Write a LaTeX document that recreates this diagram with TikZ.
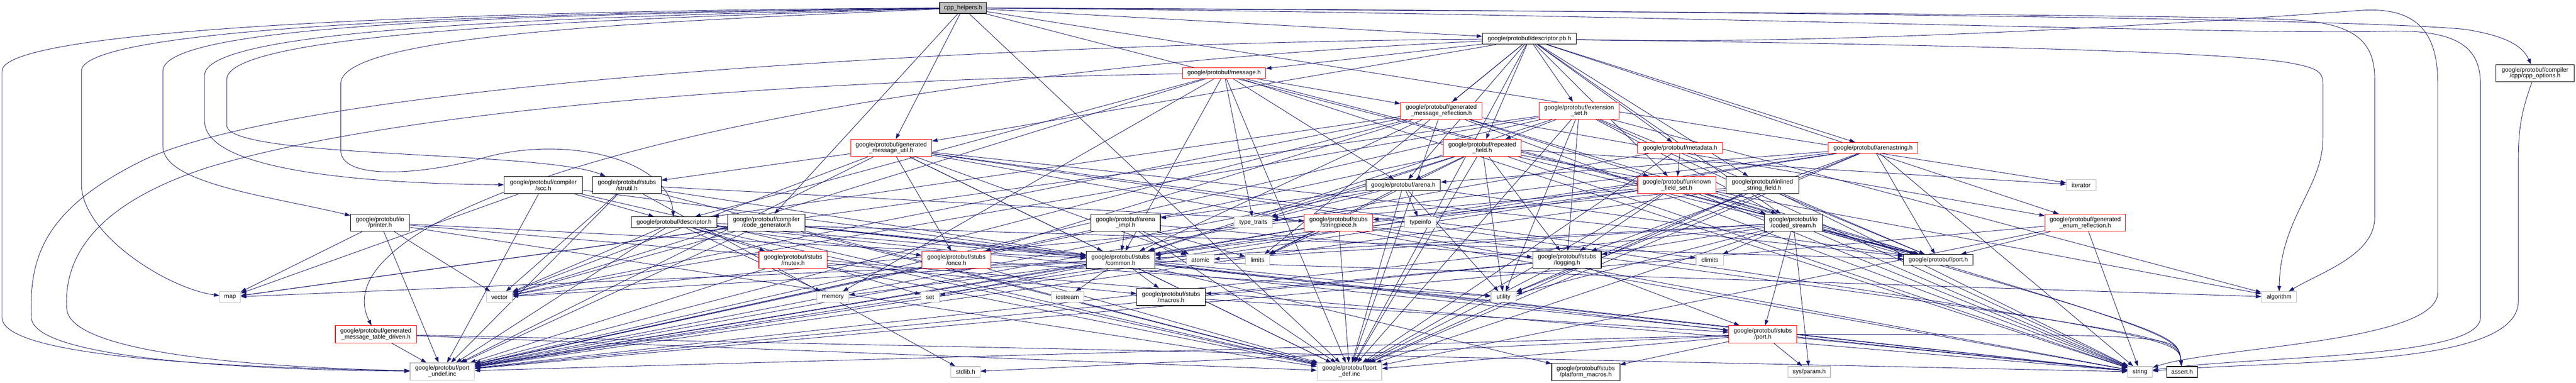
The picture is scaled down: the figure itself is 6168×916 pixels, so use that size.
\documentclass[tikz,border=0pt]{standalone}
\usepackage{fontspec}
\setmainfont{Liberation Sans}
\usetikzlibrary{arrows.meta}
\pgfdeclarelayer{bg}
\pgfsetlayers{bg,main}
\definecolor{edgec}{HTML}{191970}
\definecolor{redc}{HTML}{FF0000}
\definecolor{greyc}{HTML}{BFBFBF}
\begin{document}
\begin{tikzpicture}[x=1pt,y=-1pt,
  box/.style={draw=black, fill=white, line width=1.4pt, inner sep=0pt, align=center,
    minimum height=26pt, font=\fontsize{14.5}{14.5}\selectfont},
  two/.style={minimum height=41pt},
  trunc/.style={draw=redc},
  sys/.style={draw=greyc},
  ed/.style={draw=edgec, line width=1.1pt, -{Triangle[length=13pt,width=9pt]}}]
\useasboundingbox (0,0) rectangle (6168,916);
% rank 0-2
\node[box,fill=greyc,minimum width=112pt] (cpp) at (2306,19) {cpp\_helpers.h};
\node[box,minimum width=225pt] (dpb) at (3662,93) {google/protobuf/descriptor.pb.h};
\node[box,trunc,minimum width=199pt] (msg) at (2931,175) {google/protobuf/message.h};
\node[box,two,minimum width=187pt] (cppopt) at (6070,175) {google/protobuf/compiler\\/cpp/cpp\_options.h};
% rank 3-4
\node[box,two,trunc,minimum width=195pt] (gmr) at (3451,265) {google/protobuf/generated\\\_message\_reflection.h};
\node[box,two,trunc,minimum width=192pt] (ext) at (3781,265) {google/protobuf/extension\\\_set.h};
\node[box,two,trunc,minimum width=194pt] (gmu) at (2134,354) {google/protobuf/generated\\\_message\_util.h};
\node[box,two,trunc,minimum width=186pt] (rep) at (3549,354) {google/protobuf/repeated\\\_field.h};
\node[box,trunc,minimum width=204pt] (meta) at (4023,354) {google/protobuf/metadata.h};
\node[box,trunc,minimum width=215pt] (astr) at (4485,354) {google/protobuf/arenastring.h};
% rank 5
\node[box,two,minimum width=188pt] (scc) at (1301,443) {google/protobuf/compiler\\/scc.h};
\node[box,two,minimum width=164pt] (strutil) at (1501,443) {google/protobuf/stubs\\/strutil.h};
\node[box,minimum width=178pt] (arena) at (3360,443) {google/protobuf/arena.h};
\node[box,two,trunc,minimum width=187pt] (ufs) at (4015,443) {google/protobuf/unknown\\\_field\_set.h};
\node[box,two,minimum width=174pt] (isf) at (4220,443) {google/protobuf/inlined\\\_string\_field.h};
\node[box,sys,minimum width=71pt] (iter) at (4983,443) {iterator};
% rank 6
\node[box,two,minimum width=141pt] (printer) at (910,533) {google/protobuf/io\\/printer.h};
\node[box,minimum width=205pt] (desc) at (1614,532) {google/protobuf/descriptor.h};
\node[box,two,minimum width=186pt] (codegen) at (1835,533) {google/protobuf/compiler\\/code\_generator.h};
\node[box,two,minimum width=166pt] (aimpl) at (2695,533) {google/protobuf/arena\\\_impl.h};
\node[box,sys,minimum width=91pt] (tt) at (3001,532) {type\_traits};
\node[box,two,trunc,minimum width=164pt] (sp) at (3205,533) {google/protobuf/stubs\\/stringpiece.h};
\node[box,sys,minimum width=76pt] (ti) at (3401,532) {typeinfo};
\node[box,two,minimum width=140pt] (cs) at (4294,533) {google/protobuf/io\\/coded\_stream.h};
\node[box,two,trunc,minimum width=193pt] (ger) at (4993,533) {google/protobuf/generated\\\_enum\_reflection.h};
% rank 7
\node[box,two,trunc,minimum width=164pt] (mutex) at (1899,622) {google/protobuf/stubs\\/mutex.h};
\node[box,two,trunc,minimum width=165pt] (once) at (2290,622) {google/protobuf/stubs\\/once.h};
\node[box,two,minimum width=164pt] (common) at (2683,622) {google/protobuf/stubs\\/common.h};
\node[box,sys,minimum width=65pt] (atomic) at (2874,622) {atomic};
\node[box,sys,minimum width=58pt] (limits) at (3011,622) {limits};
\node[box,two,minimum width=164pt] (logging) at (3752,622) {google/protobuf/stubs\\/logging.h};
\node[box,sys,minimum width=66pt] (climits) at (4094,622) {climits};
\node[box,minimum width=166pt] (gport) at (4641,622) {google/protobuf/port.h};
% rank 8
\node[box,sys,minimum width=50pt] (map) at (551,711) {map};
\node[box,sys,minimum width=62pt] (vector) at (1196,711) {vector};
\node[box,sys,minimum width=77pt] (memory) at (1994,711) {memory};
\node[box,sys,minimum width=44pt] (set) at (2227,711) {set};
\node[box,sys,minimum width=78pt] (iostream) at (2556,711) {iostream};
\node[box,two,minimum width=164pt] (macros) at (2804,711) {google/protobuf/stubs\\/macros.h};
\node[box,sys,minimum width=60pt] (utility) at (3600,711) {utility};
\node[box,sys,minimum width=84pt] (algorithm) at (5457,711) {algorithm};
% rank 9
\node[box,two,trunc,minimum width=194pt] (gmtd) at (900,800) {google/protobuf/generated\\\_message\_table\_driven.h};
\node[box,two,trunc,minimum width=163pt] (sport) at (4221,800) {google/protobuf/stubs\\/port.h};
% rank 10
\node[box,two,sys,minimum width=154pt] (pundef) at (1059,889) {google/protobuf/port\\\_undef.inc};
\node[box,sys,minimum width=70pt] (stdlib) at (2312,890) {stdlib.h};
\node[box,two,sys,minimum width=155pt] (pdef) at (3231,889) {google/protobuf/port\\\_def.inc};
\node[box,two,minimum width=163pt] (pmac) at (3797,890) {google/protobuf/stubs\\/platform\_macros.h};
\node[box,sys,minimum width=102pt] (sysparam) at (4332,890) {sys/param.h};
\node[box,sys,minimum width=59pt] (string) at (5124,890) {string};
\node[box,minimum width=74pt] (assert) at (5225,890) {assert.h};

\begin{pgfonlayer}{bg}
\foreach \s/\t in {cpp/codegen, cpp/gmu, cpp/dpb, cpp/iter, cpp/gport, cpp/pdef,
 dpb/limits, dpb/pdef, dpb/cs, dpb/arena, dpb/astr, dpb/gmu, dpb/isf, dpb/meta, dpb/gmr, dpb/msg, dpb/rep, dpb/ext, dpb/ger, dpb/ufs,
 msg/memory, msg/tt, msg/vector, msg/common, msg/arena, msg/desc, msg/gmr, msg/gport, msg/pdef, msg/string,
 gmr/string, gmr/vector, gmr/common, gmr/desc, gmr/ger, gmr/once, gmr/gport, gmr/ufs, gmr/pdef, gmr/pundef,
 ext/algorithm, ext/map, ext/string, ext/utility, ext/vector, ext/common, ext/logging, ext/cs, ext/gport, ext/rep, ext/pdef, ext/pundef,
 gmu/atomic, gmu/climits, gmu/string, gmu/vector, gmu/common, gmu/once, gmu/gport, gmu/strutil, gmu/pdef, gmu/pundef,
 rep/utility, rep/algorithm, rep/iter, rep/limits, rep/string, rep/tt, rep/logging, rep/common, rep/arena, rep/gport, rep/pdef, rep/pundef,
 meta/ufs, meta/pdef, meta/pundef,
 astr/string, astr/tt, astr/utility, astr/logging, astr/common, astr/arena, astr/gport, astr/pdef, astr/pundef,
 scc/map, scc/common, scc/desc, scc/pdef, scc/pundef,
 strutil/stdlib, strutil/vector, strutil/common, strutil/sp, strutil/pdef, strutil/pundef,
 arena/limits, arena/tt, arena/utility, arena/ti, arena/aimpl, arena/gport, arena/pdef, arena/pundef,
 ufs/string, ufs/vector, ufs/common, ufs/logging, ufs/cs, ufs/gport, ufs/pdef, ufs/pundef,
 isf/string, isf/utility, isf/gport, isf/sp, isf/pdef, isf/pundef,
 printer/map, printer/string, printer/vector, printer/common, printer/pdef, printer/pundef,
 desc/memory, desc/set, desc/string, desc/vector, desc/common, desc/mutex, desc/once, desc/gport, desc/pdef, desc/pundef,
 codegen/map, codegen/string, codegen/utility, codegen/vector, codegen/common, codegen/pdef, codegen/pundef,
 aimpl/atomic, aimpl/limits, aimpl/common, aimpl/logging, aimpl/pdef, aimpl/pundef,
 sp/limits, sp/string, sp/common, sp/pdef, sp/pundef,
 cs/atomic, cs/climits, cs/string, cs/utility, cs/sysparam, cs/common, cs/logging, cs/gport, cs/sport, cs/pdef, cs/pundef,
 ger/string, ger/gport, ger/pdef, ger/pundef,
 mutex/macros, mutex/pdef, mutex/pundef,
 once/utility, once/pdef, once/pundef,
 common/algorithm, common/iostream, common/map, common/memory, common/set, common/string, common/vector, common/macros, common/pmac, common/sport, common/pdef, common/pundef,
 logging/macros, logging/sport, logging/pdef, logging/pundef,
 macros/sport,
 gmtd/string, gmtd/pdef, gmtd/pundef,
 sport/stdlib, sport/string, sport/pmac, sport/sysparam, sport/pdef, sport/pundef}
  \draw[ed] (\s) -- (\t);
% edges into assert.h from above
\foreach \s in {gmu, ufs, sp, cs, sport}
  \draw[ed] (\s) .. controls (5215,800) .. (assert);
% long edges routed round the left side
\draw[ed] (cpp) .. controls (1500,22) and (5,50) .. (5,170) -- (5,760) .. controls (5,860) and (600,880) .. (pundef);
\draw[ed] (cpp) .. controls (1400,28) and (195,55) .. (195,170) -- (195,440) .. controls (195,560) and (400,690) .. (map);
\draw[ed] (cpp) .. controls (1200,35) and (390,60) .. (390,170) -- (390,350) .. controls (390,440) and (650,470) .. (printer);
\draw[ed] (cpp) .. controls (1300,40) and (490,70) .. (490,180) -- (490,290) .. controls (490,420) and (950,440) .. (scc);
\draw[ed] (cpp) .. controls (1400,45) and (543,80) .. (543,190) -- (543,300) .. controls (543,380) and (1300,360) .. (strutil);
\draw[ed] (cpp) .. controls (1600,50) and (816,80) .. (816,200) -- (816,360) .. controls (816,430) and (1000,420) .. (1150,380) .. controls (1350,320) and (1600,380) .. (desc);
\draw[ed] (dpb) .. controls (2600,100) and (800,180) .. (350,380) .. controls (100,500) and (70,620) .. (75,760) .. controls (80,860) and (600,885) .. (pundef);
\draw[ed] (msg) .. controls (2000,190) and (1000,250) .. (500,400) .. controls (250,480) and (150,600) .. (160,740) .. controls (170,850) and (650,880) .. (pundef);
\draw[ed] (dpb) .. controls (1800,180) and (750,500) .. (gmtd);
% long edges routed round the right side
\draw[ed] (cpp) .. controls (3500,22) and (5600,40) .. (5900,70) .. controls (6000,85) and (6040,110) .. (cppopt);
\draw[ed] (cpp) .. controls (3600,26) and (5300,35) .. (5500,48) .. controls (5640,58) and (5686,100) .. (5686,190) -- (5686,520) .. controls (5686,610) and (5560,650) .. (algorithm);
\draw[ed] (dpb) .. controls (4500,110) and (5450,40) .. (5650,25) .. controls (5790,15) and (5837,80) .. (5837,200) -- (5837,700) .. controls (5837,820) and (5300,830) .. (string);
\draw[ed] (cpp) .. controls (3800,30) and (5400,85) .. (5700,75) .. controls (5880,68) and (5939,110) .. (5939,200) -- (5939,760) .. controls (5939,860) and (5400,850) .. (string);
\draw[ed] (cppopt) .. controls (6040,260) and (6030,300) .. (6030,380) -- (6030,720) .. controls (6030,880) and (5500,860) .. (string);
\draw[ed] (dpb) .. controls (4500,105) and (5300,120) .. (5480,150) .. controls (5545,162) and (5562,170) .. (5562,200) -- (5562,330) .. controls (5562,450) and (5460,520) .. (algorithm);
\end{pgfonlayer}
\end{tikzpicture}
\end{document}
